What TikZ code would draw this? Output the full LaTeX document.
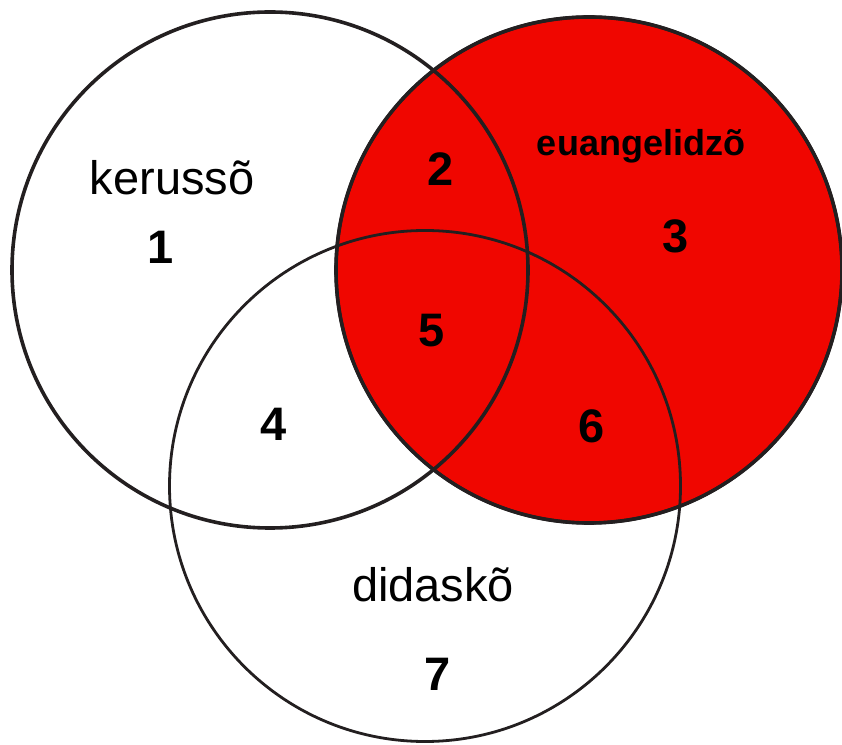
\documentclass[tikz,border=0pt]{standalone}
\usepackage{fontspec}
\setmainfont{Liberation Sans}
\definecolor{vennred}{RGB}{240,6,0}
\definecolor{vennline}{RGB}{35,31,32}

\begin{document}
\begin{tikzpicture}[x=1pt, y=1pt,
    ring/.style={circle, draw=vennline, line width=3.6pt, inner sep=0pt},
    word/.style={font=\fontsize{47}{56}\selectfont, anchor=base},
    head/.style={font=\bfseries\fontsize{36}{44}\selectfont, anchor=base},
    num/.style={font=\bfseries\fontsize{47}{56}\selectfont}
  ]
  \useasboundingbox (0,0) rectangle (842,744);
  % the three sets
  \node[ring, fill=vennred, minimum size=506pt] (euangelidzo) at (589,474) {};
  \node[ring, minimum size=516pt] (kerusso) at (270,474) {};
  \node[ring, line width=2.8pt, minimum size=511pt] (didasko) at (425,258) {};
  \node[ring, line width=3.2pt, minimum size=506pt] (euangelidzoline) at (euangelidzo) {};

  % names
  \node[word] (kname) at (172,549) {kerussõ};
  \node[head] (ename) at (641,588) {euangelidzõ};
  \node[word] (dname) at (433,143) {didaskõ};

  % regions
  \node[num] (r1) at (161,497) {1};
  \node[num] (r2) at (441,575) {2};
  \node[num] (r3) at (676,508) {3};
  \node[num] (r4) at (274,320) {4};
  \node[num] (r5) at (432,413) {5};
  \node[num] (r6) at (592,318) {6};
  \node[num] (r7) at (438,70) {7};
\end{tikzpicture}
\end{document}
